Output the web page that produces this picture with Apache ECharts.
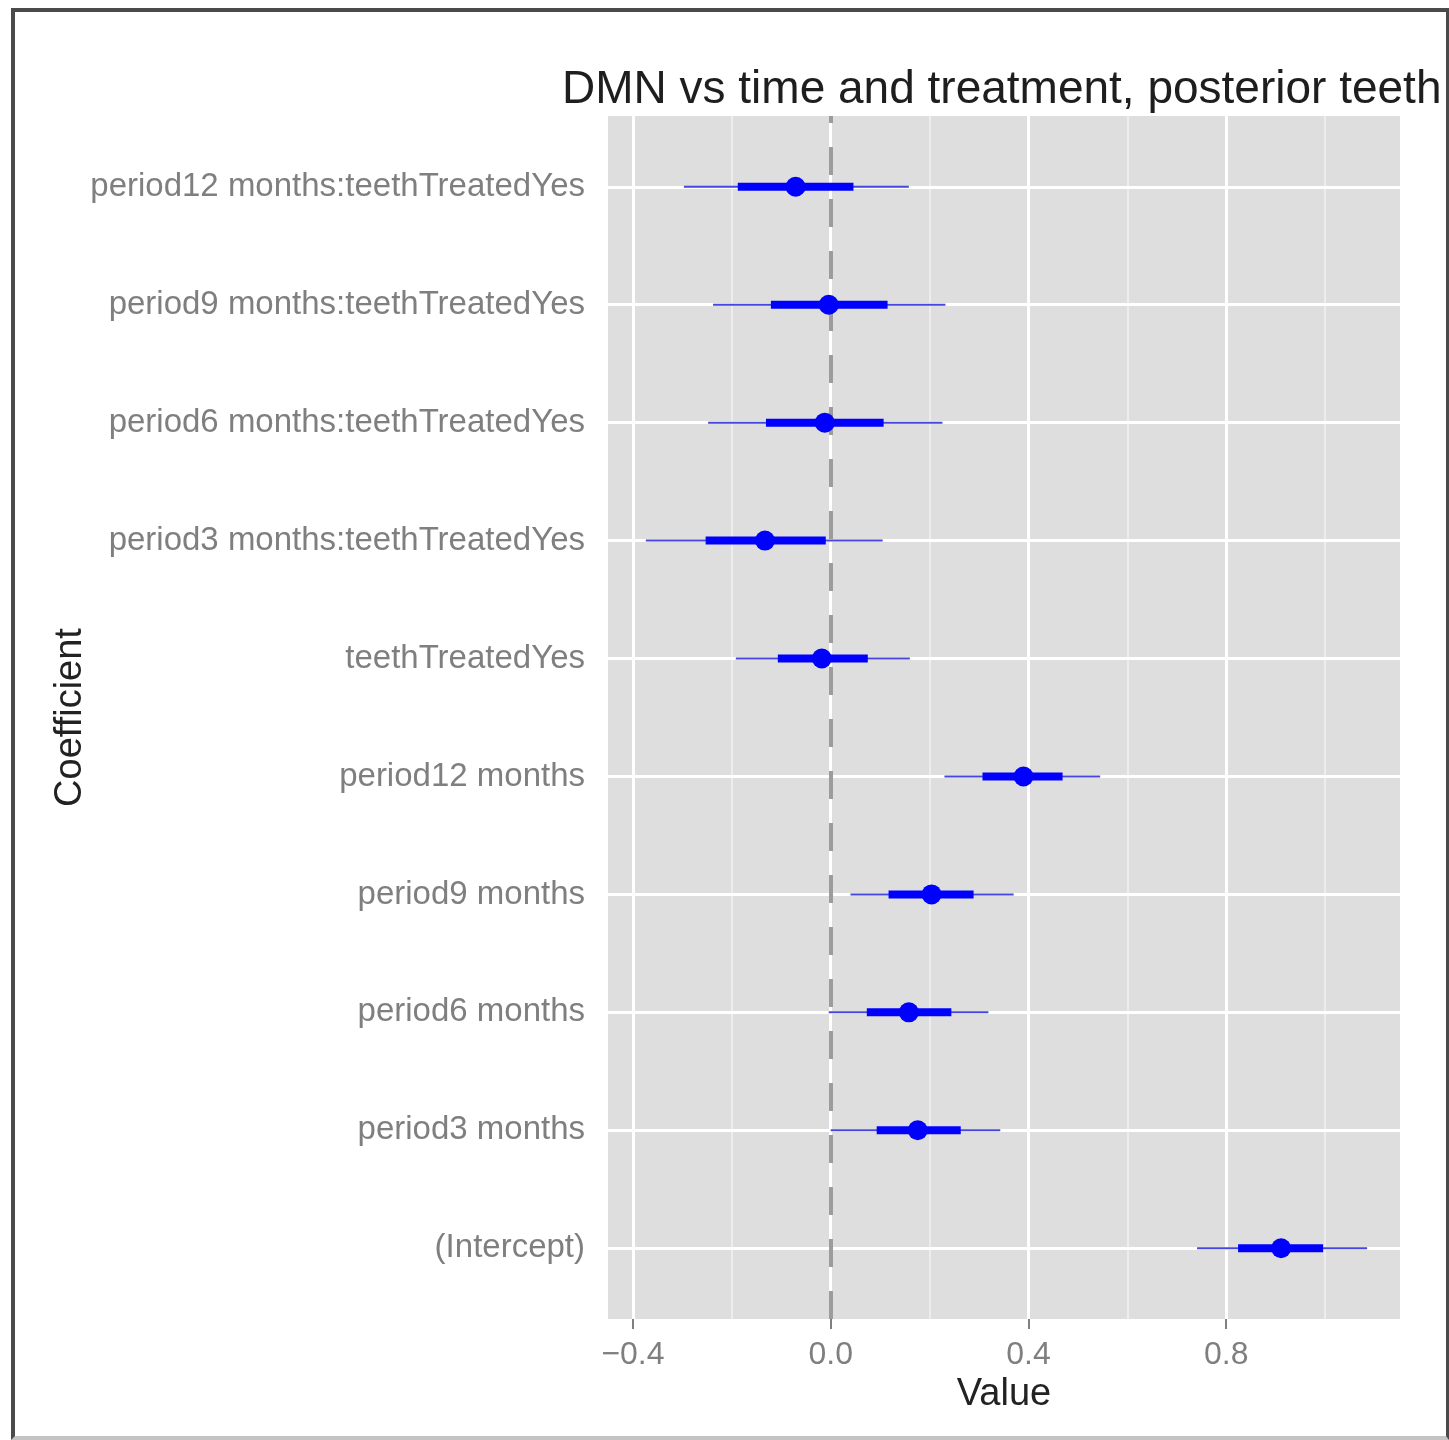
<!DOCTYPE html>
<html>
<head>
<meta charset="utf-8">
<title>DMN vs time and treatment, posterior teeth</title>
<script src="https://cdn.jsdelivr.net/npm/echarts@6/dist/echarts.min.js"></script>
<style>
  html, body { margin: 0; padding: 0; background: #fff; }
  .wrap { position: relative; width: 1449px; height: 1440px; overflow: hidden; }
  #chart { width: 1449px; height: 1440px; }
  /* screenshot frame around the plot */
  .frame {
    position: absolute; left: 11px; top: 8px; right: 0; bottom: 0;
    border: 4px solid #4a4a4a; border-bottom-color: #c4c4c4; border-right-width: 3px;
    pointer-events: none;
  }
</style>
</head>
<body>
<div class="wrap">
  <div id="chart"></div>
  <div class="frame"></div>
</div>
<script>
// coefficients, bottom to top
const categories = [
  '(Intercept)',
  'period3 months',
  'period6 months',
  'period9 months',
  'period12 months',
  'teethTreatedYes',
  'period3 months:teethTreatedYes',
  'period6 months:teethTreatedYes',
  'period9 months:teethTreatedYes',
  'period12 months:teethTreatedYes'
]
const estimate  = [0.911, 0.176, 0.158, 0.204, 0.390, -0.018, -0.133, -0.012, -0.004, -0.071]
const innerLow  = [0.824, 0.093, 0.073, 0.117, 0.307, -0.107, -0.253, -0.131, -0.121, -0.188]
const innerHigh = [0.996, 0.263, 0.244, 0.289, 0.469, 0.075, -0.010, 0.107, 0.115, 0.046]
const outerLow  = [0.741, 0.000, -0.004, 0.040, 0.230, -0.192, -0.374, -0.248, -0.238, -0.297]
const outerHigh = [1.085, 0.343, 0.319, 0.370, 0.545, 0.160, 0.105, 0.226, 0.232, 0.158]

// x axis ticks
const xMajor = [-0.4, 0.0, 0.4, 0.8]
const xMinor = [-0.2, 0.2, 0.6, 1.0]
const yTicks = categories.map((c, i) => i + 1)

const fontFamily = '"Liberation Sans", Arial, Helvetica, sans-serif'

const fmtX = v => (v < 0 ? '\u2212' + Math.abs(v).toFixed(1) : v.toFixed(1))

const chart = echarts.init(document.getElementById('chart'))

// background grid lines drawn as mark lines on the library scales
const gridSeries = {
  type: 'line',
  data: [],
  z: 1,
  silent: true,
  markLine: {
    z: 1,
    symbol: 'none',
    silent: true,
    label: { show: false },
    animation: false,
    data: [
      ...xMinor.map(v => ({ xAxis: v, lineStyle: { color: '#f2f2f2', width: 1.5, type: 'solid' } })),
      ...xMajor.map(v => ({ xAxis: v, lineStyle: { color: '#ffffff', width: 3, type: 'solid' } })),
      ...yTicks.map(v => ({ yAxis: v, lineStyle: { color: '#ffffff', width: 3, type: 'solid' } }))
    ]
  }
}

// dashed reference line at zero
const zeroSeries = {
  type: 'line',
  data: [],
  z: 2,
  silent: true,
  markLine: {
    z: 2,
    symbol: 'none',
    silent: true,
    label: { show: false },
    animation: false,
    data: [{ xAxis: 0, lineStyle: { color: '#9c9c9c', width: 4, type: [28, 24] } }]
  }
}

const coefSeries = {
  type: 'custom',
  z: 3,
  data: categories.map((c, i) => [i + 1, estimate[i], innerLow[i], innerHigh[i], outerLow[i], outerHigh[i]]),
  encode: { y: 0, x: [1, 2, 3, 4, 5] },
  renderItem: (params, api) => {
    const y = api.value(0)
    const p = api.coord([api.value(1), y])
    const i1 = api.coord([api.value(2), y])
    const i2 = api.coord([api.value(3), y])
    const o1 = api.coord([api.value(4), y])
    const o2 = api.coord([api.value(5), y])
    return {
      type: 'group',
      children: [
        { type: 'line', shape: { x1: o1[0], y1: o1[1], x2: o2[0], y2: o2[1] },
          style: { stroke: '#4646e0', lineWidth: 2 } },
        { type: 'line', shape: { x1: i1[0], y1: i1[1], x2: i2[0], y2: i2[1] },
          style: { stroke: '#0000ff', lineWidth: 8 } },
        { type: 'circle', shape: { cx: p[0], cy: p[1], r: 10 },
          style: { fill: '#0000ff' } }
      ]
    }
  }
}

const option = {
  backgroundColor: '#ffffff',
  animation: false,
  title: {
    text: 'DMN vs time and treatment, posterior teeth',
    left: 562,
    top: 67,
    padding: 0,
    textStyle: { fontFamily, fontSize: 46, fontWeight: 'normal', color: '#1e1e1e' }
  },
  grid: {
    left: 608,
    right: 49,
    top: 116,
    bottom: 121,
    show: true,
    backgroundColor: '#dedede',
    borderWidth: 0
  },
  xAxis: {
    type: 'value',
    min: -0.4505,
    max: 1.1515,
    name: 'Value',
    nameLocation: 'middle',
    nameGap: 57,
    nameMoveOverlap: false,
    nameTextStyle: { fontFamily, fontSize: 38, color: '#222' },
    axisLine: { show: false },
    axisTick: { show: true, length: 10, customValues: xMajor, lineStyle: { color: '#7f7f7f', width: 2 } },
    axisLabel: { customValues: xMajor, formatter: fmtX, margin: 20, fontFamily, fontSize: 32, color: '#7f7f7f' },
    splitLine: { show: false }
  },
  yAxis: {
    type: 'value',
    min: 0.4,
    max: 10.6,
    name: 'Coefficient',
    nameLocation: 'middle',
    nameGap: 518,
    nameMoveOverlap: false,
    nameTextStyle: { fontFamily, fontSize: 38, color: '#222' },
    axisLine: { show: false },
    axisTick: { show: true, length: 10, customValues: yTicks, lineStyle: { color: '#7f7f7f', width: 2 } },
    axisLabel: {
      customValues: yTicks,
      formatter: v => categories[Math.round(v) - 1] || '',
      margin: 23,
      fontFamily,
      fontSize: 33,
      color: '#7f7f7f'
    },
    splitLine: { show: false }
  },
  series: [gridSeries, zeroSeries, coefSeries]
}

chart.setOption(option)
window.addEventListener('resize', () => chart.resize())
</script>
</body>
</html>
